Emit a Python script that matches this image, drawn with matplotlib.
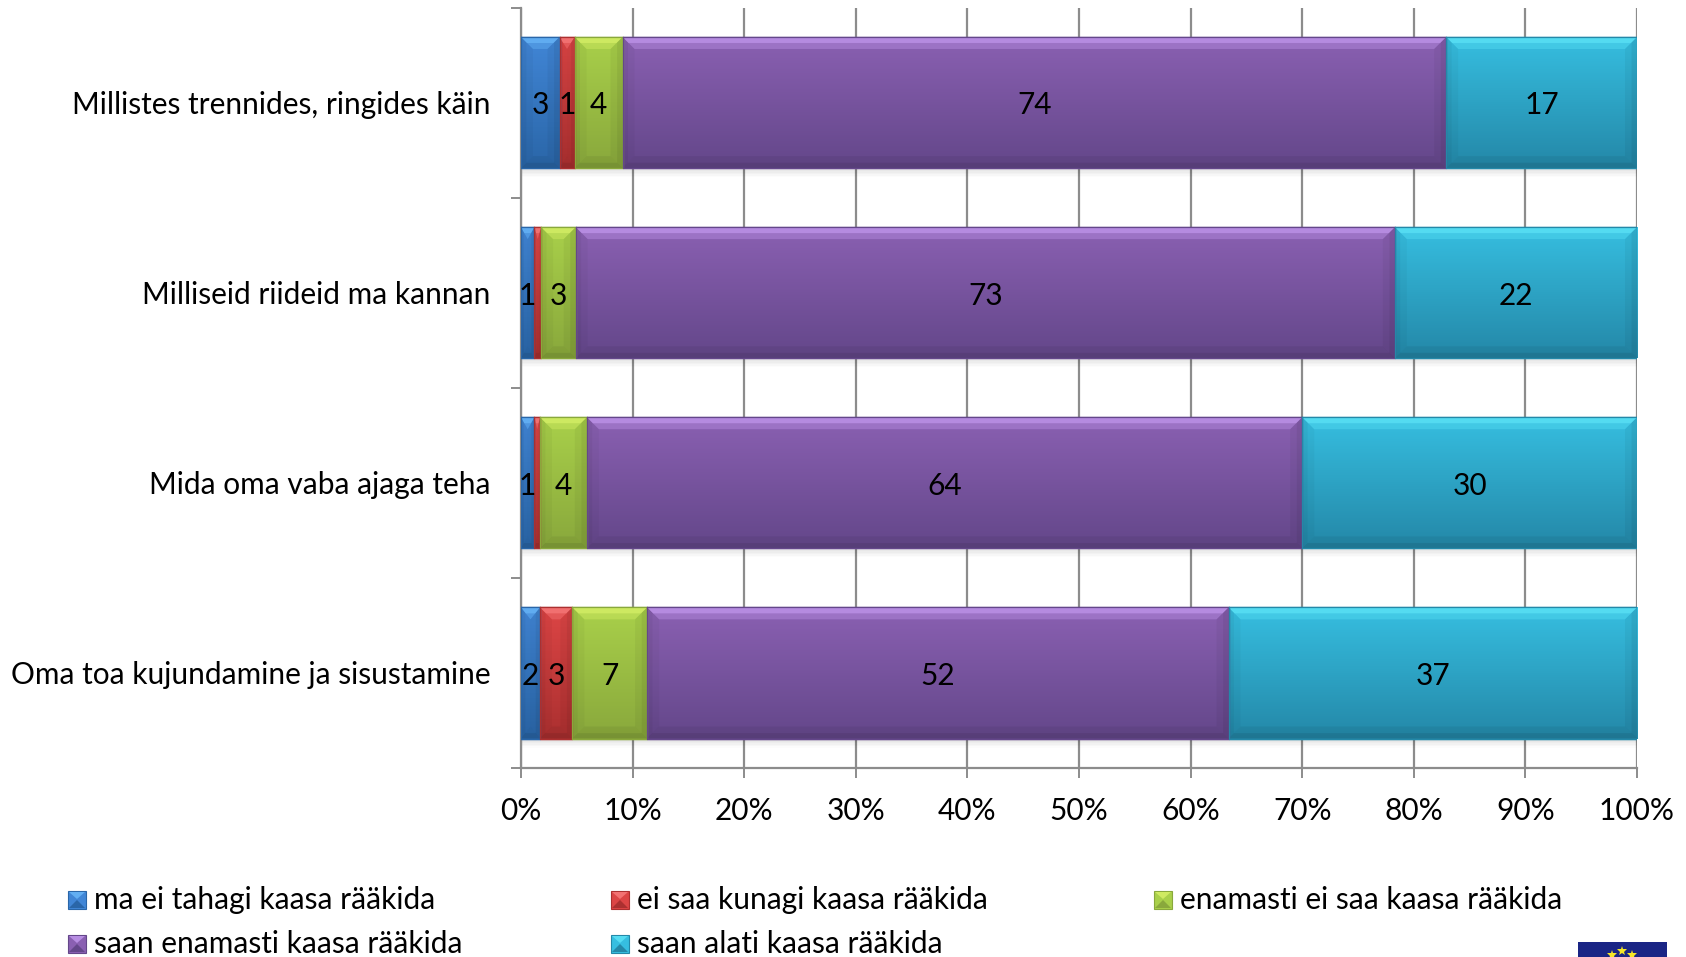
import numpy as np
import matplotlib
matplotlib.use("Agg")
from matplotlib import pyplot as plt
from matplotlib.colors import LinearSegmentedColormap

plt.rcParams['font.family'] = ['Lato', 'DejaVu Sans']

# data
categories = ["Millistes trennides, ringides käin", "Milliseid riideid ma kannan",
              "Mida oma vaba ajaga teha", "Oma toa kujundamine ja sisustamine"]
series_names = ["ma ei tahagi kaasa rääkida", "ei saa kunagi kaasa rääkida",
                "enamasti ei saa kaasa rääkida", "saan enamasti kaasa rääkida",
                "saan alati kaasa rääkida"]
never_want = [3.45, 1.2, 1.2, 1.7]
never_can = [1.35, 0.6, 0.5, 2.9]
mostly_not = [4.3, 3.1, 4.2, 6.7]
mostly_can = [73.8, 73.4, 64.1, 52.1]
always_can = [17.1, 21.7, 30.0, 36.6]
series = [never_want, never_can, mostly_not, mostly_can, always_can]
x_ticks = list(range(0, 101, 10))

# (highlight, top, bottom) for each series
colours = [("#62aef2", "#4186d6", "#2a66a8"),
           ("#f27272", "#dc4545", "#ab3030"),
           ("#cfea62", "#a9d04a", "#89a83c"),
           ("#b78de2", "#8a60b2", "#64478a"),
           ("#55dcf2", "#36bee0", "#2488a8")]
font_size = 21.5

W, H = 1686, 957
fig = plt.figure(figsize=(W / 100, H / 100), dpi=100, facecolor="white")
ax = fig.add_axes([521 / W, 1 - 768 / H, 1116 / W, 760.5 / H])
overlay = fig.add_axes([0, 0, 1, 1], zorder=5)
overlay.set_xlim(0, W)
overlay.set_ylim(H, 0)
overlay.axis("off")


def bevel(target, x0, y0, x1, y1, dx, dy, light, z):
	# mitred edges on a box, y0 is the top edge, two steps so the edge looks soft
	dx = min(dx, (x1 - x0) / 2)
	for frac, alpha in [(1.0, 0.45), (0.5, 0.95)]:
		sx = dx * frac
		sy = dy * frac
		target.fill([x0, x1, x1 - sx, x0 + sx], [y0, y0, y0 + sy, y0 + sy], color=light, alpha=alpha, lw=0, zorder=z)
	for frac, alpha in [(1.0, 0.03), (0.45, 0.04)]:
		sx = dx * frac
		sy = dy * frac
		target.fill([x0, x0 + sx, x0 + sx, x0], [y0, y0 + sy, y1 - sy, y1], color="black", alpha=alpha, lw=0, zorder=z)
		target.fill([x1, x1 - sx, x1 - sx, x1], [y0, y0 + sy, y1 - sy, y1], color="black", alpha=alpha * 1.4, lw=0, zorder=z)
		target.fill([x0, x1, x1 - sx, x0 + sx], [y1, y1, y1 - sy, y1 - sy], color="black", alpha=alpha * 1.8, lw=0, zorder=z)


y_pos = np.arange(len(categories))
left = np.zeros(len(categories))
px_x = 100 / 1116
px_y = 4 / 760.5
bar_h = 0.69

# soft shadow below the bars
for k in range(1, 6):
	ax.barh(y_pos + bar_h / 2 + k * px_y * 1.5, 100, height=3 * px_y, left=0,
			color="black", alpha=0.05 * (6 - k) / 5, lw=0, zorder=2)

for s, values in enumerate(series):
	hi, top, bottom = colours[s]
	cmap = LinearSegmentedColormap.from_list("bar", [top, bottom])
	bars = ax.barh(y_pos, values, left=left, height=bar_h, color=top,
				   edgecolor=bottom, linewidth=1.0, zorder=3)
	for rect, v in zip(bars, values):
		x0, y0 = rect.get_x(), rect.get_y()
		x1, y1 = x0 + rect.get_width(), y0 + rect.get_height()
		im = ax.imshow(np.linspace(0, 1, 64).reshape(-1, 1), cmap=cmap, aspect="auto",
					   extent=(x0, x1, y1, y0), zorder=3.1)
		im.set_clip_path(rect)
		bevel(ax, x0, y0, x1, y1, 12 * px_x, 12 * px_y, hi, 3.2)
		ax.plot([x0, x1, x1, x0, x0], [y0, y0, y1, y1, y0], color=bottom, lw=0.9, zorder=3.3)
		if v >= 1:
			ax.text(x0 + v / 2, y0 + bar_h / 2 + 0.015, f"{v:.0f}", ha="center", va="center",
					fontsize=font_size, color="black", zorder=4)
	left = left + np.array(values)

ax.set_xlim(0, 100)
ax.set_ylim(3.5, -0.5)
ax.set_xticks(x_ticks)
ax.set_xticklabels([f"{t}%" for t in x_ticks], fontsize=font_size)
ax.set_yticks(y_pos)
ax.set_yticklabels(categories, fontsize=font_size)
ax.set_yticks(np.arange(-0.5, 4), minor=True)
ax.grid(axis="x", color="#8c8c8c", lw=1.6, zorder=1)
ax.set_axisbelow(True)
ax.tick_params(axis="x", length=7, width=1.4, color="#8c8c8c", pad=14)
ax.tick_params(axis="y", which="major", length=0, pad=22)
ax.tick_params(axis="y", which="minor", length=7, width=1.4, color="#8c8c8c")
for side in ["top", "right"]:
	ax.spines[side].set_visible(False)
for side in ["left", "bottom"]:
	ax.spines[side].set_color("#8c8c8c")
	ax.spines[side].set_linewidth(1.6)

# legend laid out on the fixed three column grid of the reference
legend_x = [68, 611, 1154]
legend_y = [900, 944]
for s, name in enumerate(series_names):
	hi, top, bottom = colours[s]
	lx = legend_x[s % 3]
	ly = legend_y[s // 3]
	overlay.fill([lx, lx + 18, lx + 18, lx], [ly - 9, ly - 9, ly + 9, ly + 9],
				 color=top, ec=bottom, lw=0.8, zorder=2)
	overlay.fill([lx + 1, lx + 17, lx + 9], [ly - 8, ly - 8, ly - 1], color=hi, lw=0, zorder=3)
	overlay.fill([lx + 1, lx + 17, lx + 9], [ly + 8, ly + 8, ly], color=bottom, lw=0, zorder=3)
	overlay.text(lx + 26, ly, name, ha="left", va="center", fontsize=font_size, color="black")

# EU flag cut off by the bottom edge
overlay.fill([1578, 1667, 1667, 1578], [942, 942, 957, 957], color="#1a2585", lw=0)
overlay.plot([1612, 1622, 1632], [955, 951, 955], ls="none", marker="*", ms=7, color="#f5e628", mew=0)
overlay.set_xlim(0, W)
overlay.set_ylim(H, 0)

fig.savefig("out.png", dpi=100)
